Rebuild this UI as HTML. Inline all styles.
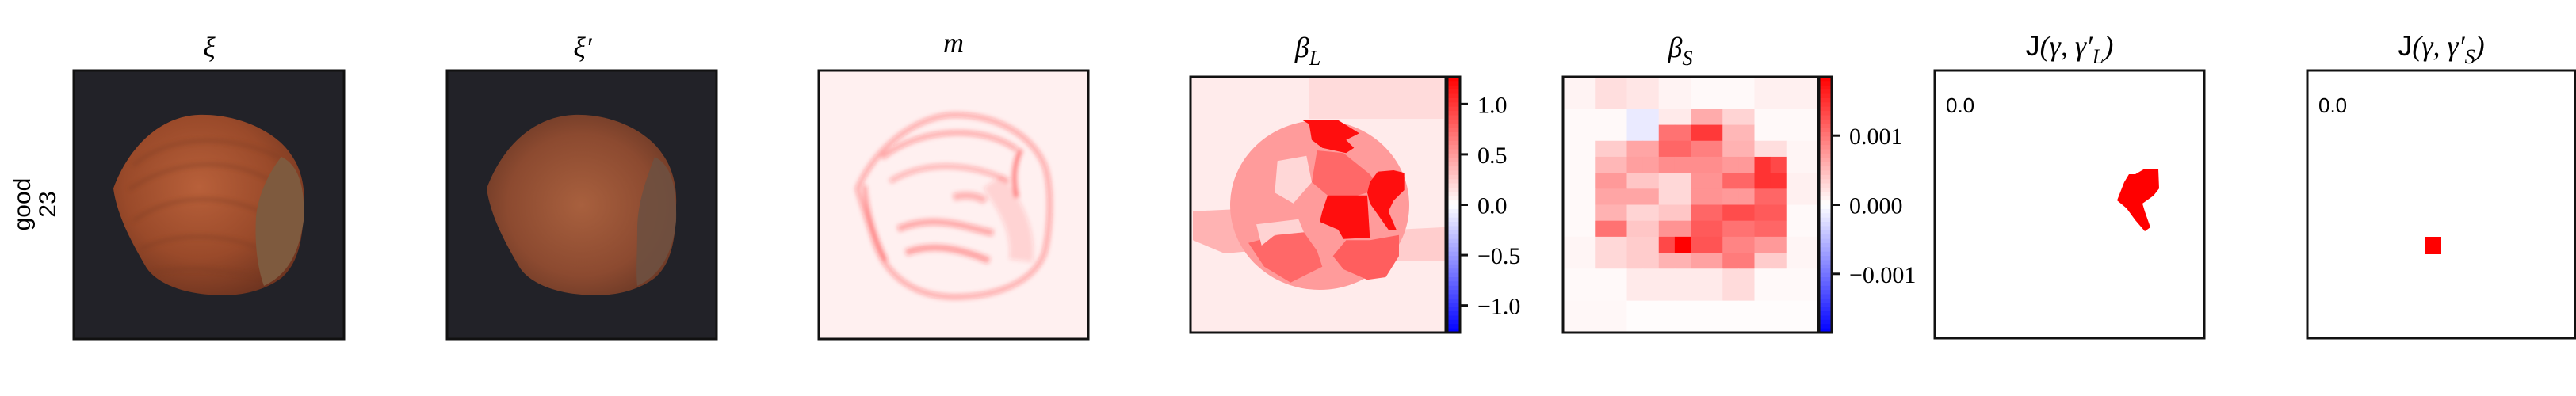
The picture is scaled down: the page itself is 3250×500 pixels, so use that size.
<!DOCTYPE html>
<html><head><meta charset="utf-8">
<style>
html,body{margin:0;padding:0;background:#fff;}
svg{display:block;}
.ttl{font-family:"Liberation Serif",serif;font-style:italic;font-size:36px;fill:#000;}
.tk{font-family:"Liberation Serif",serif;font-size:30px;fill:#000;}
.sans{font-family:"Liberation Sans",sans-serif;fill:#000;}
</style></head>
<body>
<svg id="fig" width="3250" height="500" viewBox="0 0 3250 500" xmlns="http://www.w3.org/2000/svg">
  <defs>
    <radialGradient id="nutg" cx="0.45" cy="0.4" r="0.65">
      <stop offset="0" stop-color="#b8603a"/>
      <stop offset="0.6" stop-color="#9a4a2a"/>
      <stop offset="1" stop-color="#6e3420"/>
    </radialGradient>
    <radialGradient id="nutg2" cx="0.5" cy="0.5" r="0.65">
      <stop offset="0" stop-color="#a8603e"/>
      <stop offset="0.6" stop-color="#8c4a30"/>
      <stop offset="1" stop-color="#5e3222"/>
    </radialGradient>
    <filter id="blur3"><feGaussianBlur stdDeviation="3"/></filter>
  </defs>

  <text class="sans" font-size="30" transform="translate(38,258) rotate(-90)" text-anchor="middle">good</text>
  <text class="sans" font-size="30" transform="translate(70,258) rotate(-90)" text-anchor="middle">23</text>

  <g transform="translate(93,89)">
    <rect width="341" height="339" fill="#222228"/>
    <path d="M50,149 C70,95 110,58 157,56 C210,54 258,80 274,106 C288,125 292,150 290,170 C290,215 282,245 262,262 C235,282 200,286 170,283 C130,280 100,265 90,246 C75,220 55,185 50,149 Z" fill="url(#nutg)"/>
    <g stroke="#7a3a22" stroke-width="4" fill="none" opacity="0.45" filter="url(#blur3)">
      <path d="M75,120 C120,80 200,80 260,110"/><path d="M70,150 C130,110 200,110 250,140"/>
      <path d="M75,190 C130,150 200,160 240,180"/><path d="M85,225 C140,200 200,210 235,225"/>
      <path d="M100,255 C150,245 200,255 235,260"/>
    </g>
    <path d="M262,109 C245,130 232,160 230,185 C228,220 232,250 240,272 C260,262 282,245 290,190 C292,150 285,120 262,109 Z" fill="#7e5a3e"/>
    <rect width="341" height="339" fill="none" stroke="#111" stroke-width="3"/>
  </g>
  <text class="ttl" x="264" y="72" text-anchor="middle">ξ</text>

  <g transform="translate(564,89)">
    <rect width="340" height="339" fill="#222228"/>
    <path d="M50,149 C70,95 110,58 160,56 C212,54 256,80 272,106 C286,125 290,150 289,170 C289,215 282,245 262,262 C235,282 200,286 170,283 C130,280 100,265 90,246 C75,220 55,185 50,149 Z" fill="url(#nutg2)"/>
    <path d="M262,109 C250,140 240,170 240,200 C240,230 238,255 240,272 C262,262 284,240 289,190 C290,150 284,120 262,109 Z" fill="#6e5040" opacity="0.9"/>
    <rect width="340" height="339" fill="none" stroke="#111" stroke-width="3"/>
  </g>
  <text class="ttl" x="735" y="72" text-anchor="middle">ξ′</text>

  <g transform="translate(1033,89)">
    <rect width="340" height="339" fill="#fff0f0"/>
    <g fill="none" stroke="#ff2020" filter="url(#blur3)">
      <path d="M49,149 C70,100 120,58 170,56 C230,56 270,85 285,120 C295,150 292,200 285,230 C270,270 220,286 170,286 C120,285 85,260 70,215 C62,190 55,170 49,149 Z" stroke-width="6" opacity="0.35"/>
      <path d="M80,110 C130,70 210,70 250,100" stroke-width="6" opacity="0.35"/>
      <path d="M90,140 C140,110 200,120 240,140" stroke-width="6" opacity="0.3"/>
      <path d="M100,200 C150,180 190,200 220,205" stroke-width="8" opacity="0.35"/>
      <path d="M110,230 C150,215 190,230 215,240" stroke-width="8" opacity="0.4"/>
      <path d="M170,160 C190,155 205,160 210,165" stroke-width="9" opacity="0.3"/>
      <path d="M255,100 C245,120 245,140 250,160" stroke-width="5" opacity="0.6"/>
      <path d="M58,145 C60,175 70,210 85,240" stroke-width="4" opacity="0.5"/>
      <path d="M220,140 C240,170 260,200 255,240" stroke-width="30" opacity="0.15"/>
    </g>
    <rect width="340" height="339" fill="none" stroke="#111" stroke-width="3"/>
  </g>
  <text class="ttl" x="1203" y="66" text-anchor="middle">m</text>

  <g id="betaL" transform="translate(1502,97)"></g>
  <text class="ttl" x="1650" y="72" text-anchor="middle">β<tspan font-size="26" dy="10">L</tspan></text>

  <g id="betaS" transform="translate(1972,97)"></g>
  <text class="ttl" x="2120" y="72" text-anchor="middle">β<tspan font-size="26" dy="10">S</tspan></text>

  <g transform="translate(2441,89)">
    <rect width="340" height="338" fill="#fff"/>
    <path d="M245,131 L253,131 L265,124 L282,124 L283,149 L276,158 L262,168 L265,178 L272,198 L265,203 L253,189 L242,174 L230,164 L239,141 Z" fill="#ff0000"/>
    <text class="sans" x="14" y="53" font-size="26">0.0</text>
    <rect width="340" height="338" fill="none" stroke="#111" stroke-width="3"/>
  </g>
  <text class="ttl" x="2611" y="70" text-anchor="middle"><tspan class="sans" font-style="normal">J</tspan>(γ, γ′<tspan font-size="26" dy="10">L</tspan><tspan dy="-10">)</tspan></text>

  <g transform="translate(2911,89)">
    <rect width="338" height="338" fill="#fff"/>
    <rect x="148" y="210" width="21" height="22" fill="#ff0000"/>
    <text class="sans" x="14" y="53" font-size="26">0.0</text>
    <rect width="338" height="338" fill="none" stroke="#111" stroke-width="3"/>
  </g>
  <text class="ttl" x="3080" y="70" text-anchor="middle"><tspan class="sans" font-style="normal">J</tspan>(γ, γ′<tspan font-size="26" dy="10">S</tspan><tspan dy="-10">)</tspan></text>
</svg>

<script>
const betaSRows = [
 [.09,.09,.24,.24,.18,.18,.09,.09,.04,.04,.04,.04,.11,.11,.11,.11],
 [.09,.09,.24,.24,.18,.18,.09,.09,.04,.04,.04,.04,.11,.11,.11,.11],
 [.04,.04,.04,.04,-.15,-.15,.15,.15,.61,.61,.31,.31,.04,.04,.04,.04],
 [.04,.04,.04,.04,-.15,-.15,1.02,1.02,1.44,1.44,.52,.52,.04,.04,.04,.04],
 [.04,.04,.37,.37,.65,.65,1.11,1.11,.93,.93,.56,.56,.24,.24,.07,.07],
 [.04,.04,.52,.52,.70,.70,.83,.83,.83,.83,.74,.74,1.48,1.33,.07,.07],
 [.04,.04,.74,.74,.41,.41,.28,.28,.78,.78,1.11,1.11,1.48,1.48,.11,.11],
 [.04,.04,.65,.65,.65,.65,.28,.28,.78,.78,.74,.74,1.11,1.11,.11,.11],
 [.04,.04,.56,.56,.31,.31,.41,.41,1.11,1.11,1.30,1.30,1.20,1.20,.04,.04],
 [.04,.04,1.02,1.02,.41,.41,.78,.78,1.20,1.20,1.02,1.02,1.11,1.11,.04,.04],
 [.07,.07,.28,.28,.37,.37,1.33,1.85,1.24,1.24,.89,.89,.74,.74,.07,.07],
 [.07,.07,.28,.28,.37,.37,.56,.56,.68,.68,.96,.96,.37,.37,.07,.07],
 [.04,.04,.04,.04,.15,.15,.15,.15,.15,.15,.26,.26,.04,.04,.04,.04],
 [.04,.04,.04,.04,.15,.15,.15,.15,.15,.15,.26,.26,.04,.04,.04,.04],
 [.06,.06,.06,.06,.02,.02,.02,.02,.02,.02,.02,.02,.02,.02,.02,.02],
 [.06,.06,.06,.06,.02,.02,.02,.02,.02,.02,.02,.02,.02,.02,.02,.02]
];
const betaSTicks = [1, 0, -1];
const betaSTickLabels = ["0.001", "0.000", "\u22120.001"];
const betaSMax = 1.85;

const betaLTicks = [1.0, 0.5, 0.0, -0.5, -1.0];
const betaLTickLabels = ["1.0", "0.5", "0.0", "\u22120.5", "\u22121.0"];
const betaLMax = 1.27;
const betaLBackground = 0.1;
const betaLValues = [0.18, 0.38, 0.25, 0.5, 0.75, 0.75, 0.2, 0.22, 1.2, 1.2, 1.2, 0.8];

const NS = "http://www.w3.org/2000/svg";
function bwr(v, vmax) {
  let t = Math.max(-1, Math.min(1, v / vmax));
  if (t >= 0) { const c = Math.round(255 * (1 - t)); return `rgb(255,${c},${c})`; }
  const c = Math.round(255 * (1 + t)); return `rgb(${c},${c},255)`;
}
function mk(tag, attrs, parent) {
  const e = document.createElementNS(NS, tag);
  for (const k in attrs) e.setAttribute(k, attrs[k]);
  parent.appendChild(e); return e;
}
function colorbar(parent, x, h, w, vmax, ticks, labels, name) {
  const g = mk("g", {}, parent);
  
  
  const n = 60;
  for (let i = 0; i < n; i++) {
    const v = vmax - (i + 0.5) * (2 * vmax / n);
    mk("rect", {x: x, y: i * h / n, width: w, height: h / n + 0.6, fill: bwr(v, vmax)}, g);
  }
  mk("rect", {x: x, y: 0, width: w, height: h, fill: "none", stroke: "#111", "stroke-width": 3}, g);
  const yOf = v => h / 2 - v / vmax * (h / 2);
  ticks.forEach((t, i) => {
    const y = yOf(t);
    mk("line", {x1: x + w, x2: x + w + 10, y1: y, y2: y, stroke: "#111", "stroke-width": 3}, g);
    const tx = mk("text", {x: x + w + 22, y: y + 11, class: "tk"}, g);
    
    
    tx.textContent = labels[i];
  });
}

(function () {
  const g = document.getElementById("betaS");
  const W = 322, H = 323, rows = betaSRows.length, cols = betaSRows[0].length;
  const cw = W / cols, ch = H / rows;
  betaSRows.forEach((row, r) => row.forEach((v, c) => {
    const cell = mk("rect", {x: c * cw, y: r * ch, width: cw + 0.5, height: ch + 0.5, fill: bwr(v, betaSMax)}, g);
    
    
  }));
  mk("rect", {x: 0, y: 0, width: W, height: H, fill: "none", stroke: "#111", "stroke-width": 3}, g);
  colorbar(g, 323, 323, 16, betaSMax, betaSTicks, betaSTickLabels, "colorbar-beta-s");
})();

(function () {
  const g = document.getElementById("betaL");
  const W = 322, H = 323;
  mk("rect", {x: 0, y: 0, width: W, height: H, fill: bwr(betaLBackground, betaLMax)}, g);
  const z = pts => "M" + pts.map(p => (p[0] / 3 - 7).toFixed(1) + "," + (p[1] / 3 - 7).toFixed(1)).join(" L") + " Z";
  const shapes = [
    z([[470,20],[980,20],[980,180],[470,180]]),
    z([[30,530],[250,520],[260,680],[150,690],[30,640]]),
    z([[800,600],[990,590],[990,720],[800,720]]),
    null,
    z([[500,300],[600,310],[700,390],[720,420],[690,460],[620,480],[540,470],[480,420]]),
    z([[240,650],[350,620],[450,610],[500,680],[520,740],[440,780],[400,800],[300,740]]),
    z([[350,340],[460,320],[480,420],[410,500],[340,460]]),
    z([[270,580],[350,570],[430,560],[450,610],[340,620],[290,660]]),
    z([[445,185],[580,185],[660,235],[610,260],[640,290],[610,310],[520,290],[480,260],[470,200]]),
    z([[700,420],[730,380],[790,375],[830,385],[830,450],[790,490],[770,530],[800,600],[770,600],[700,500],[690,460]]),
    z([[540,470],[620,470],[690,470],[700,630],[600,635],[580,600],[510,570],[520,530]]),
    z([[560,700],[610,640],[700,640],[810,620],[810,700],[760,780],[690,790],[600,750]])
  ];
  shapes.forEach((d, i) => {
    let el;
    if (d === null) {
      el = mk("ellipse", {cx: 510 / 3 - 7, cy: 507 / 3 - 7, rx: 113, ry: 107, fill: bwr(betaLValues[i], betaLMax)}, g);
    } else {
      el = mk("path", {d: d, fill: bwr(betaLValues[i], betaLMax)}, g);
    }
    
    
  });
  mk("rect", {x: 0, y: 0, width: W, height: H, fill: "none", stroke: "#111", "stroke-width": 3}, g);
  colorbar(g, 324, 323, 16, betaLMax, betaLTicks, betaLTickLabels, "colorbar-beta-l");
})();
</script>
</body></html>
